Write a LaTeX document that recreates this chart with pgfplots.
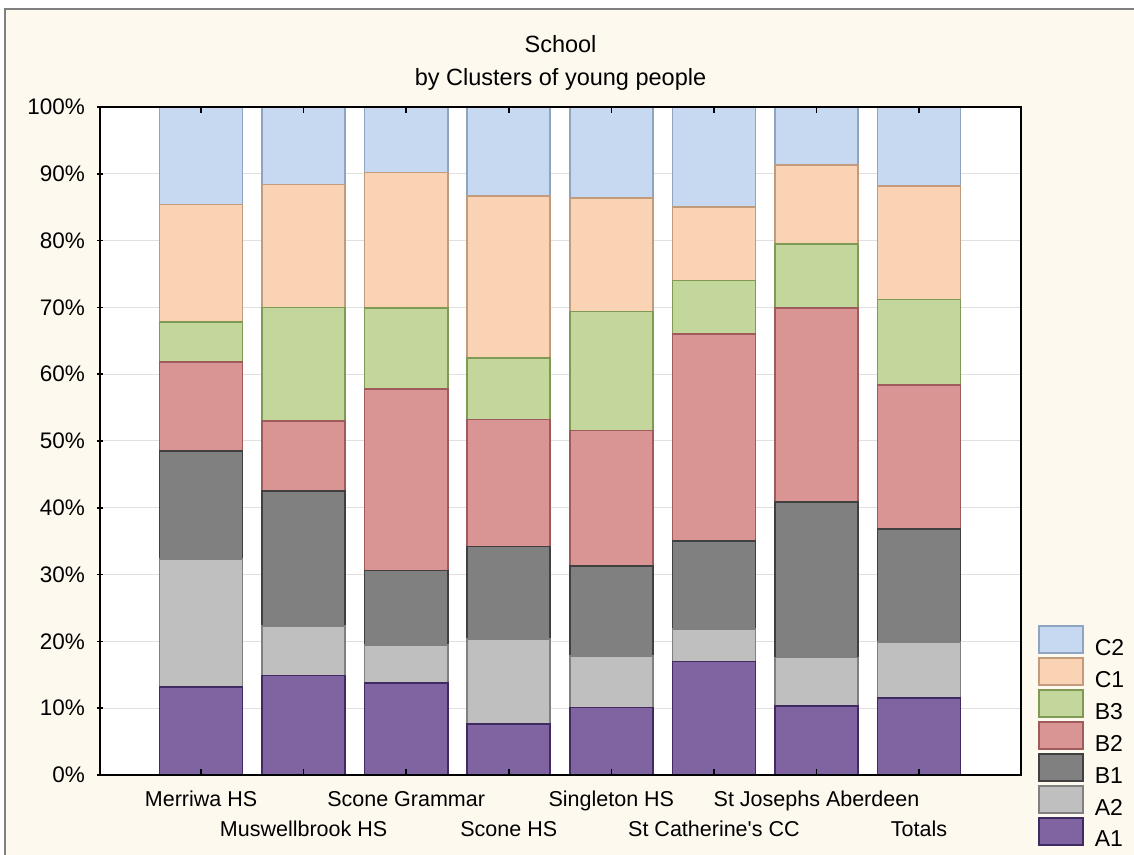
\documentclass[border=0pt]{standalone}
\usepackage{fontspec}
\setmainfont{Liberation Sans}
\usepackage{pgfplots}
\usepackage{pgfplotstable}
\pgfplotsset{compat=1.18}
\definecolor{bgc}{HTML}{FEF9EE}
\definecolor{cC2}{HTML}{C6D9F0}\definecolor{dC2}{HTML}{8EA4C0}
\definecolor{cC1}{HTML}{FAD3B4}\definecolor{dC1}{HTML}{C29A7C}
\definecolor{cB3}{HTML}{C3D69B}\definecolor{dB3}{HTML}{7F9A55}
\definecolor{cB2}{HTML}{D99594}\definecolor{dB2}{HTML}{A05A5B}
\definecolor{cB1}{HTML}{808080}\definecolor{dB1}{HTML}{404040}
\definecolor{cA2}{HTML}{BFBFBF}\definecolor{dA2}{HTML}{808080}
\definecolor{cA1}{HTML}{8064A2}\definecolor{dA1}{HTML}{3F2A62}
\pgfplotstableread{
x A1 A2 B1 B2 B3 C1 C2
0 13.2 19.1 16.2 13.3 6.0 17.6 14.6
1 14.9 7.4 20.2 10.5 17.0 18.4 11.6
2 13.8 5.7 11.1 27.2 12.1 20.3 9.8
3 7.6 12.8 13.8 19.0 9.2 24.3 13.3
4 10.1 7.7 13.5 20.3 17.8 17.0 13.6
5 17.0 4.9 13.1 31.0 8.0 11.0 15.0
6 10.3 7.3 23.3 29.0 9.6 11.8 8.7
7 11.5 8.4 16.9 21.6 12.8 17.0 11.8
}\datatable
\pgfplotsset{
  barsty/.style 2 args={fill=#1, draw=#2, line width=1.6bp,
  legend image code/.code={\draw[fill=#1, draw=#2, line width=1.6bp] (0bp,-5bp) rectangle (44bp,22bp);}},
  frame/.style={
    at={(100bp,80bp)}, anchor=south west,
    scale only axis, width=921bp, height=668bp,
    xmin=-0.985, xmax=7.994, ymin=0, ymax=100,
    axis line style={line width=1.5bp, black},
    xtick={0,...,7}, ytick={0,10,...,100},
    xtick pos=both, xtick align=inside,
    ytick pos=left, ytick align=center,
    major tick length=6bp,
    tick style={line width=1.5bp, black},
  }}
\begin{document}
\begin{tikzpicture}
\useasboundingbox (0,0) rectangle (1134bp,855bp);
\fill[white] (0,0) rectangle (1134bp,855bp);
\fill[bgc] (5bp,0) rectangle (1134bp,846bp);
\draw[line width=2bp, color=black!50] (5bp,0) -- (5bp,846bp) -- (1134bp,846bp);
\begin{axis}[
  frame,
  ybar stacked, bar width=0.81,
  axis background/.style={fill=white},
  /pgf/number format/assume math mode=true,
  xticklabels={Merriwa HS, \raisebox{-29.7bp}{Muswellbrook HS}, Scone Grammar, \raisebox{-29.7bp}{Scone HS}, Singleton HS, \raisebox{-29.7bp}{St Catherine\textquotesingle s CC}, St Josephs Aberdeen, \raisebox{-29.7bp}{Totals}},
  x tick label style={anchor=base, yshift=-31.7bp, inner sep=0pt, font=\fontsize{21.5bp}{25bp}\selectfont},
  yticklabels={0\%,10\%,20\%,30\%,40\%,50\%,60\%,70\%,80\%,90\%,100\%},
  y tick label style={anchor=east, xshift=-12bp, inner sep=0pt, font=\fontsize{22.5bp}{26bp}\selectfont},
  ymajorgrids, y grid style={line width=1bp, color=black!12},
  title={School\\by Clusters of young people},
  title style={at={(0.5,1)}, anchor=south, yshift=10.5bp, inner sep=0pt, align=center, font=\fontsize{23.5bp}{32.6bp}\selectfont},
  reverse legend, legend cell align=left,
  legend style={at={(1.0185,0.2246)}, anchor=north west, draw=none, fill=none, inner sep=0pt,
    row sep=0.4bp, column sep=11bp, font=\fontsize{23bp}{27bp}\selectfont, nodes={inner sep=0pt}},
]
\addplot[barsty={cA1}{dA1}] table[x=x,y=A1]{\datatable};
\addplot[barsty={cA2}{dA2}] table[x=x,y=A2]{\datatable};
\addplot[barsty={cB1}{dB1}] table[x=x,y=B1]{\datatable};
\addplot[barsty={cB2}{dB2}] table[x=x,y=B2]{\datatable};
\addplot[barsty={cB3}{dB3}] table[x=x,y=B3]{\datatable};
\addplot[barsty={cC1}{dC1}] table[x=x,y=C1]{\datatable};
\addplot[barsty={cC2}{dC2}] table[x=x,y=C2]{\datatable};
\legend{A1,A2,B1,B2,B3,C1,C2}
\end{axis}
\begin{axis}[frame, xticklabels={}, yticklabels={}]
\end{axis}
\end{tikzpicture}
\end{document}
